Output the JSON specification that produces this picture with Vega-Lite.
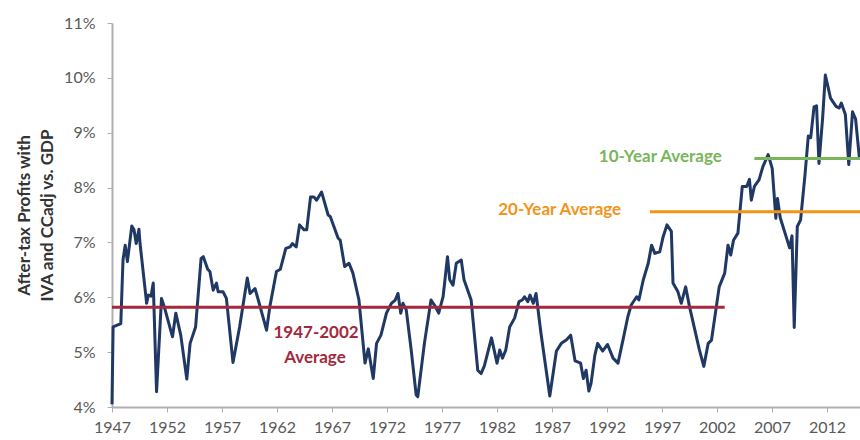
{
  "$schema": "https://vega.github.io/schema/vega-lite/v6.json",
  "width": 748,
  "height": 384,
  "autosize": "none",
  "padding": {"left": 112, "top": 23, "right": 0, "bottom": 33},
  "background": "white",
  "config": {
    "view": {"stroke": null},
    "font": "Lato"
  },
  "datasets": {
    "profits": [
      {"year": 1947.0, "pct": 4.05}, {"year": 1947.1, "pct": 5.46}, {"year": 1947.8, "pct": 5.52}, {"year": 1948.0, "pct": 6.68},
      {"year": 1948.2, "pct": 6.95}, {"year": 1948.4, "pct": 6.65}, {"year": 1948.8, "pct": 7.30}, {"year": 1949.0, "pct": 7.23},
      {"year": 1949.2, "pct": 6.98}, {"year": 1949.45, "pct": 7.24}, {"year": 1949.55, "pct": 6.98}, {"year": 1950.15, "pct": 5.89},
      {"year": 1950.3, "pct": 6.04}, {"year": 1950.55, "pct": 6.02}, {"year": 1950.75, "pct": 6.26}, {"year": 1951.05, "pct": 4.28},
      {"year": 1951.5, "pct": 5.98}, {"year": 1951.75, "pct": 5.83}, {"year": 1952.5, "pct": 5.28}, {"year": 1952.8, "pct": 5.71},
      {"year": 1953.25, "pct": 5.31}, {"year": 1953.8, "pct": 4.51}, {"year": 1954.1, "pct": 5.16}, {"year": 1954.6, "pct": 5.46},
      {"year": 1955.1, "pct": 6.71}, {"year": 1955.3, "pct": 6.74}, {"year": 1955.7, "pct": 6.51}, {"year": 1955.9, "pct": 6.47},
      {"year": 1956.2, "pct": 6.13}, {"year": 1956.5, "pct": 6.26}, {"year": 1956.65, "pct": 6.10}, {"year": 1957.1, "pct": 6.10},
      {"year": 1957.4, "pct": 5.98}, {"year": 1958.0, "pct": 4.81}, {"year": 1958.6, "pct": 5.46}, {"year": 1959.3, "pct": 6.35},
      {"year": 1959.55, "pct": 6.07}, {"year": 1960.0, "pct": 6.16}, {"year": 1960.3, "pct": 5.95}, {"year": 1961.05, "pct": 5.40},
      {"year": 1961.35, "pct": 5.83}, {"year": 1961.95, "pct": 6.47}, {"year": 1962.3, "pct": 6.51}, {"year": 1962.8, "pct": 6.89},
      {"year": 1963.2, "pct": 6.92}, {"year": 1963.4, "pct": 6.98}, {"year": 1963.75, "pct": 6.92}, {"year": 1964.05, "pct": 7.32},
      {"year": 1964.45, "pct": 7.23}, {"year": 1964.7, "pct": 7.23}, {"year": 1965.05, "pct": 7.83}, {"year": 1965.35, "pct": 7.83},
      {"year": 1965.6, "pct": 7.77}, {"year": 1966.05, "pct": 7.92}, {"year": 1966.65, "pct": 7.50}, {"year": 1966.85, "pct": 7.47},
      {"year": 1967.55, "pct": 7.08}, {"year": 1967.75, "pct": 7.04}, {"year": 1968.15, "pct": 6.56}, {"year": 1968.55, "pct": 6.62},
      {"year": 1968.9, "pct": 6.44}, {"year": 1969.45, "pct": 5.95}, {"year": 1970.0, "pct": 4.80}, {"year": 1970.3, "pct": 5.06},
      {"year": 1970.75, "pct": 4.52}, {"year": 1971.05, "pct": 5.16}, {"year": 1971.45, "pct": 5.31}, {"year": 1971.95, "pct": 5.71},
      {"year": 1972.4, "pct": 5.89}, {"year": 1972.75, "pct": 5.95}, {"year": 1973.0, "pct": 6.07}, {"year": 1973.25, "pct": 5.71},
      {"year": 1973.45, "pct": 5.89}, {"year": 1973.75, "pct": 5.77}, {"year": 1974.2, "pct": 5.04}, {"year": 1974.65, "pct": 4.22},
      {"year": 1974.8, "pct": 4.19}, {"year": 1975.4, "pct": 5.16}, {"year": 1976.0, "pct": 5.95}, {"year": 1976.4, "pct": 5.83},
      {"year": 1976.7, "pct": 5.71}, {"year": 1977.1, "pct": 6.01}, {"year": 1977.5, "pct": 6.74}, {"year": 1977.7, "pct": 6.32},
      {"year": 1978.0, "pct": 6.22}, {"year": 1978.3, "pct": 6.62}, {"year": 1978.75, "pct": 6.68}, {"year": 1979.0, "pct": 6.32},
      {"year": 1979.65, "pct": 5.95}, {"year": 1980.25, "pct": 4.67}, {"year": 1980.55, "pct": 4.61}, {"year": 1980.85, "pct": 4.75},
      {"year": 1981.5, "pct": 5.26}, {"year": 1982.0, "pct": 4.80}, {"year": 1982.25, "pct": 5.04}, {"year": 1982.5, "pct": 4.89},
      {"year": 1982.8, "pct": 5.04}, {"year": 1983.15, "pct": 5.46}, {"year": 1983.6, "pct": 5.62}, {"year": 1984.0, "pct": 5.92},
      {"year": 1984.3, "pct": 5.95}, {"year": 1984.5, "pct": 6.01}, {"year": 1984.8, "pct": 5.92}, {"year": 1985.0, "pct": 6.04},
      {"year": 1985.3, "pct": 5.89}, {"year": 1985.55, "pct": 6.07}, {"year": 1986.0, "pct": 5.34}, {"year": 1986.8, "pct": 4.20},
      {"year": 1987.4, "pct": 5.02}, {"year": 1987.85, "pct": 5.16}, {"year": 1988.3, "pct": 5.22}, {"year": 1988.7, "pct": 5.31},
      {"year": 1989.1, "pct": 4.84}, {"year": 1989.6, "pct": 4.80}, {"year": 1989.85, "pct": 4.52}, {"year": 1990.1, "pct": 4.67},
      {"year": 1990.35, "pct": 4.29}, {"year": 1990.55, "pct": 4.43}, {"year": 1990.9, "pct": 4.95}, {"year": 1991.15, "pct": 5.16},
      {"year": 1991.6, "pct": 5.02}, {"year": 1992.05, "pct": 5.14}, {"year": 1992.55, "pct": 4.89}, {"year": 1993.0, "pct": 4.80},
      {"year": 1993.45, "pct": 5.22}, {"year": 1993.9, "pct": 5.65}, {"year": 1994.2, "pct": 5.86}, {"year": 1994.7, "pct": 6.01},
      {"year": 1994.9, "pct": 5.95}, {"year": 1995.3, "pct": 6.32}, {"year": 1995.75, "pct": 6.62}, {"year": 1996.05, "pct": 6.95},
      {"year": 1996.35, "pct": 6.80}, {"year": 1996.8, "pct": 6.83}, {"year": 1997.1, "pct": 7.10}, {"year": 1997.45, "pct": 7.32},
      {"year": 1997.85, "pct": 7.20}, {"year": 1998.0, "pct": 6.26}, {"year": 1998.45, "pct": 6.10}, {"year": 1998.75, "pct": 5.89},
      {"year": 1999.15, "pct": 6.19}, {"year": 1999.5, "pct": 5.83}, {"year": 2000.4, "pct": 5.04}, {"year": 2000.8, "pct": 4.74},
      {"year": 2001.2, "pct": 5.16}, {"year": 2001.5, "pct": 5.22}, {"year": 2002.2, "pct": 6.19}, {"year": 2002.7, "pct": 6.44},
      {"year": 2003.0, "pct": 6.95}, {"year": 2003.25, "pct": 6.77}, {"year": 2003.5, "pct": 7.04}, {"year": 2003.9, "pct": 7.17},
      {"year": 2004.3, "pct": 8.02}, {"year": 2004.7, "pct": 8.02}, {"year": 2004.95, "pct": 8.15}, {"year": 2005.12, "pct": 7.77},
      {"year": 2005.4, "pct": 8.02}, {"year": 2005.82, "pct": 8.14}, {"year": 2006.17, "pct": 8.38}, {"year": 2006.65, "pct": 8.60},
      {"year": 2007.02, "pct": 8.35}, {"year": 2007.35, "pct": 7.44}, {"year": 2007.5, "pct": 7.80}, {"year": 2007.75, "pct": 7.45},
      {"year": 2008.2, "pct": 7.16}, {"year": 2008.6, "pct": 6.90}, {"year": 2008.82, "pct": 7.12}, {"year": 2009.02, "pct": 5.45},
      {"year": 2009.3, "pct": 7.29}, {"year": 2009.6, "pct": 7.41}, {"year": 2010.0, "pct": 8.23}, {"year": 2010.3, "pct": 8.94},
      {"year": 2010.52, "pct": 8.91}, {"year": 2010.82, "pct": 9.47}, {"year": 2011.05, "pct": 9.49}, {"year": 2011.27, "pct": 8.44},
      {"year": 2011.6, "pct": 9.26}, {"year": 2011.85, "pct": 10.05}, {"year": 2012.32, "pct": 9.63}, {"year": 2012.82, "pct": 9.48},
      {"year": 2013.1, "pct": 9.45}, {"year": 2013.3, "pct": 9.54}, {"year": 2013.67, "pct": 9.33}, {"year": 2013.98, "pct": 8.42},
      {"year": 2014.32, "pct": 9.38}, {"year": 2014.6, "pct": 9.25}, {"year": 2014.95, "pct": 8.53}
    ],
    "averages": [
      {"name": "1947-2002", "start": 1947, "end": 2002.7, "pct": 5.82},
      {"name": "20-Year", "start": 1995.9, "end": 2015, "pct": 7.56},
      {"name": "10-Year", "start": 2005.4, "end": 2015, "pct": 8.53}
    ],
    "labels": [
      {"name": "1947-2002", "year": 1965.55, "pct": 5.35, "text": "1947-2002"},
      {"name": "1947-2002", "year": 1965.45, "pct": 4.89, "text": "Average"},
      {"name": "20-Year", "year": 1987.7, "pct": 7.59, "text": "20-Year Average"},
      {"name": "10-Year", "year": 1996.85, "pct": 8.55, "text": "10-Year Average"}
    ]
  },
  "layer": [
    {
      "data": {"name": "profits"},
      "mark": {"type": "line", "color": "#1F3864", "strokeWidth": 3, "strokeJoin": "round"},
      "encoding": {
        "x": {
          "field": "year", "type": "quantitative",
          "scale": {"domain": [1947, 2015], "nice": false, "zero": false},
          "axis": {
            "title": null,
            "values": [1947, 1952, 1957, 1962, 1967, 1972, 1977, 1982, 1987, 1992, 1997, 2002, 2007, 2012],
            "format": "d",
            "grid": false,
            "domainColor": "#B0B0B0", "domainWidth": 2,
            "tickColor": "#B0B0B0", "tickSize": 5, "tickWidth": 1,
            "labelFont": "Lato", "labelFontSize": 16, "labelColor": "#595959",
            "labelPadding": 7, "labelFlush": false, "labelOverlap": false
          }
        },
        "y": {
          "field": "pct", "type": "quantitative",
          "scale": {"domain": [4, 11], "nice": false, "zero": false},
          "axis": {
            "title": ["After-tax Profits with", "IVA and CCadj vs. GDP"],
            "titleFont": "Lato", "titleFontSize": 17, "titleFontWeight": "bold", "titleColor": "#333333",
            "titleLineHeight": 23, "titleAngle": -90, "titleX": -88, "titleY": 192,
            "titleAlign": "center", "titleBaseline": "middle",
            "values": [4, 5, 6, 7, 8, 9, 10, 11],
            "labelExpr": "datum.value + '%'",
            "grid": false,
            "domainColor": "#B0B0B0", "domainWidth": 2,
            "tickColor": "#B0B0B0", "tickSize": 5, "tickWidth": 1,
            "labelFont": "Lato", "labelFontSize": 16, "labelColor": "#595959",
            "labelPadding": 12, "labelFlush": false, "labelOverlap": false
          }
        }
      }
    },
    {
      "data": {"name": "averages"},
      "mark": {"type": "rule", "strokeWidth": 3},
      "encoding": {
        "x": {"field": "start", "type": "quantitative"},
        "x2": {"field": "end"},
        "y": {"field": "pct", "type": "quantitative"},
        "color": {
          "field": "name", "type": "nominal", "legend": null,
          "scale": {"domain": ["1947-2002", "20-Year", "10-Year"], "range": ["#A3293D", "#F39419", "#79B55B"]}
        }
      }
    },
    {
      "data": {"name": "labels"},
      "mark": {"type": "text", "font": "Lato", "fontSize": 17, "fontWeight": "bold", "align": "center", "baseline": "middle"},
      "encoding": {
        "x": {"field": "year", "type": "quantitative"},
        "y": {"field": "pct", "type": "quantitative"},
        "text": {"field": "text"},
        "color": {
          "field": "name", "type": "nominal", "legend": null,
          "scale": {"domain": ["1947-2002", "20-Year", "10-Year"], "range": ["#A93A4B", "#F39A26", "#5F9147"]}
        }
      }
    }
  ]
}
